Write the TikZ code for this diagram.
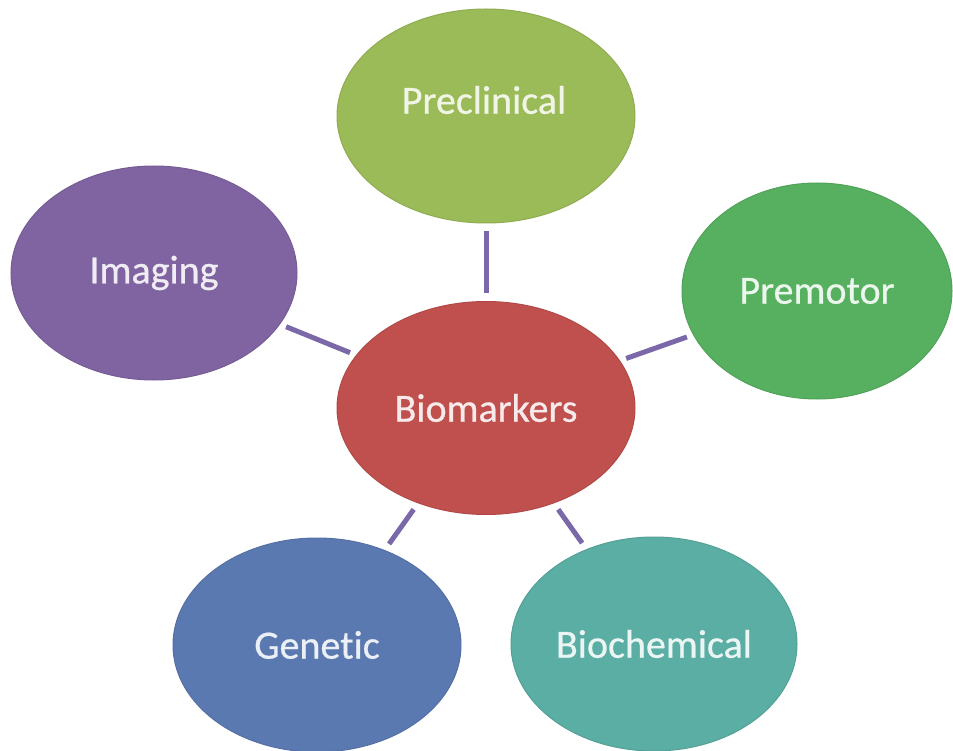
\documentclass[tikz,border=0pt]{standalone}
\usepackage{fontspec}
\setmainfont{Carlito}[Ligatures=NoCommon, FakeBold=0.6]
\usetikzlibrary{shapes.geometric}
\definecolor{cPre}{HTML}{9BBB59}
\definecolor{cImg}{HTML}{8064A2}
\definecolor{cPmt}{HTML}{57B060}
\definecolor{cBio}{HTML}{C0504D}
\definecolor{cGen}{HTML}{5B79B1}
\definecolor{cBch}{HTML}{5BAEA3}
\definecolor{cLine}{HTML}{7A68A8}
\tikzset{
  bubble/.style={ellipse, inner sep=0pt, outer sep=0pt, draw=#1!92!black, line width=1pt, fill=#1,
    text=white!88!#1, font=\fontsize{40}{48}\selectfont},
  link/.style={draw=cLine, line width=5pt, shorten <=#1, shorten >=#1},
  link/.default=8pt
}
\begin{document}
\begin{tikzpicture}[x=1pt,y=-1pt]
\useasboundingbox (0,0) rectangle (953,751);
\node[bubble=cPre, minimum width=298, minimum height=214] (pre) at (486,116) {};
\node[text=white!85!cPre, font=\fontsize{40}{48}\selectfont] (pretext) at (484,100) {Preclinical};
\node[bubble=cImg, minimum width=286, minimum height=214] (img) at (154,273) {Imaging};
\node[bubble=cPmt, minimum width=270, minimum height=216] (pmt) at (817,291) {Premotor};
\node[bubble=cBio, minimum width=298, minimum height=213] (bio) at (486,408) {Biomarkers};
\node[bubble=cGen, minimum width=288, minimum height=214] (gen) at (317,645) {Genetic};
\node[bubble=cBch, minimum width=286, minimum height=214] (bch) at (654,644) {Biochemical};
\path[link] (pre) -- (bio);
\path[link=7pt] (img) -- (bio);
\path[link=7pt] (pmt) -- (bio);
\path[link] (gen) -- (bio);
\path[link] (bch) -- (bio);
\end{tikzpicture}
\end{document}
